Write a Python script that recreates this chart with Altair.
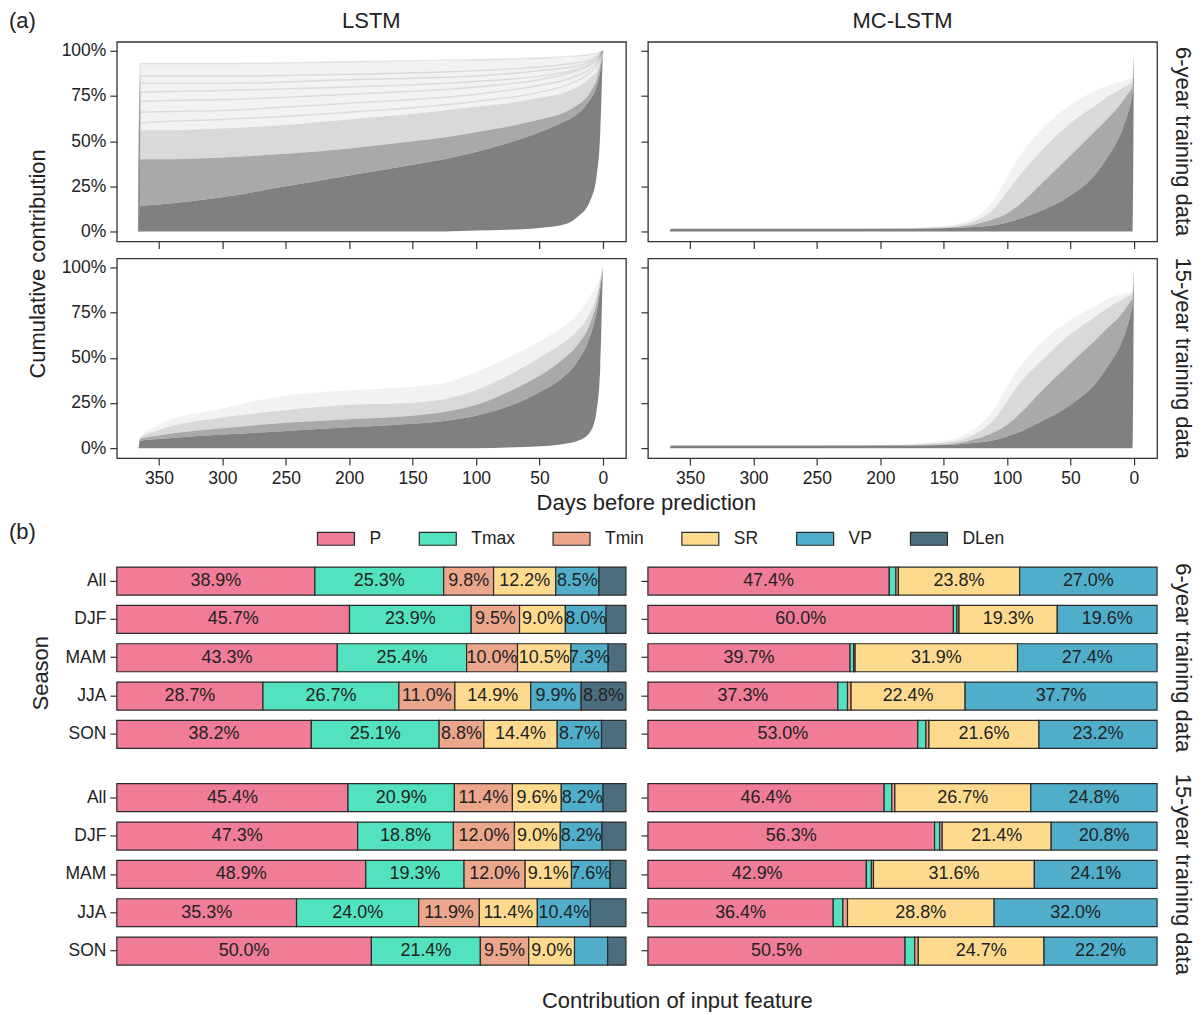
import altair as alt
import pandas as pd

FONT = "Liberation Sans"
GRAY = "#808080"
INK = "#222222"

# ---------------- (a) cumulative contribution: envelopes ----------------
days_lstm = [366, 365, 350, 300, 250, 200, 150, 125, 100, 75, 50, 30, 20, 10, 5, 2, 0]
lstm6_lo   = [0, 0, 0, 0, 0, 0, 0, 0, 0.5, 1, 2, 4, 8, 17, 30, 55, 100]
lstm6_core = [0, 14, 15, 19, 25, 31, 37, 40, 44, 49, 55, 61, 65, 73, 80, 89, 100]
lstm6_b1   = [0, 40, 40, 41, 43, 46, 50, 52, 55, 58, 62, 66, 70, 77, 84, 92, 100]
lstm6_b2   = [0, 56, 56, 57, 59, 62, 65, 67, 69, 71, 74, 77, 80, 85, 89, 95, 100]
lstm6_top  = [0, 93, 93, 93, 93, 94, 94, 94, 95, 95, 96, 96, 97, 98, 98.5, 99.5, 100]

lstm15_lo   = [0, 0, 0, 0, 0, 0, 0, 0, 0, 0.3, 1, 2.5, 4, 9, 20, 45, 100]
lstm15_core = [0, 4, 5, 7.5, 9.5, 11.5, 13.5, 15, 18, 23, 31, 40, 48, 62, 75, 88, 100]
lstm15_b1   = [0, 5, 7, 11, 14, 16, 18, 20, 24, 31, 40, 50, 57, 69, 80, 91, 100]
lstm15_b2   = [0, 5.5, 10, 17, 21, 24, 25, 27, 32, 40, 50, 59, 65, 75, 84, 93, 100]
lstm15_top  = [0, 6, 13, 22, 29, 32, 34, 36, 42, 50, 59, 68, 74, 84, 90, 95, 100]

days_mc = [366, 365, 300, 200, 150, 125, 110, 100, 90, 75, 50, 30, 20, 10, 5, 2, 1, 0]
mc6_lo   = [0, 0, 0, 0, 0, 0, 0, 0, 0, 0, 0, 0, 0, 0, 0, 0, 0, 100]
mc6_core = [0, 1.5, 1.5, 1.5, 1.8, 2.5, 3.5, 5, 7, 11, 20, 32, 42, 55, 65, 73, 78, 100]
mc6_b1   = [0, 1.5, 1.5, 1.5, 2, 4, 7, 10, 15, 25, 42, 56, 63, 71, 76, 79, 81, 100]
mc6_b2   = [0, 1.5, 1.5, 1.6, 2.5, 6, 13, 22, 31, 43, 60, 70, 75, 79, 81, 82, 83, 100]
mc6_top  = [0, 1.5, 1.5, 1.8, 3, 8, 18, 30, 42, 55, 70, 78, 81, 83, 84, 84.5, 85, 100]

mc15_lo   = [0, 0, 0, 0, 0, 0, 0, 0, 0, 0, 0, 0, 0, 0, 0, 0, 0, 100]
mc15_core = [0, 1.5, 1.5, 1.5, 1.8, 3, 4.5, 6.5, 9, 14, 24, 36, 46, 58, 68, 76, 80, 100]
mc15_b1   = [0, 1.5, 1.5, 1.5, 2, 5, 9, 13, 19, 30, 47, 60, 67, 74, 79, 82, 83, 100]
mc15_b2   = [0, 1.5, 1.5, 1.6, 3, 8, 16, 26, 36, 47, 63, 73, 78, 82, 84, 85, 86, 100]
mc15_top  = [0, 1.5, 1.5, 1.8, 4, 11, 22, 34, 45, 57, 71, 79, 83, 85, 86, 86.5, 87, 100]

# a few individual faint curves visible in the LSTM 6-year panel
fringe_days = [366, 365, 300, 200, 100, 50, 25, 10, 3, 0]
fringe_1 = [0, 93, 93, 94, 95, 96, 97, 98, 99, 100]
fringe_2 = [0, 86, 86, 87, 89, 91, 93, 95, 98, 100]
fringe_3 = [0, 82, 82, 84, 86, 89, 91, 94, 97, 100]
fringe_4 = [0, 77, 78, 80, 83, 86, 89, 93, 97, 100]
fringe_5 = [0, 72, 73, 76, 80, 84, 88, 92, 96, 100]
fringe_6 = [0, 66, 67, 71, 76, 81, 85, 90, 95, 100]
fringe_7 = [0, 60, 62, 66, 72, 77, 82, 88, 94, 100]

X_TICKS = [350, 300, 250, 200, 150, 100, 50, 0]
Y_TICKS = [0, 25, 50, 75, 100]

# ---------------- (b) contribution of input features ----------------
SEASONS = ["All", "DJF", "MAM", "JJA", "SON"]
FEATURES = ["P", "Tmax", "Tmin", "SR", "VP", "DLen"]
COLORS = ["#F07C97", "#52E2BF", "#EBA68B", "#FDDA8E", "#50AECB", "#4C6D7D"]

lstm6 = {
    "P":    [38.9, 45.7, 43.3, 28.7, 38.2],
    "Tmax": [25.3, 23.9, 25.4, 26.7, 25.1],
    "Tmin": [9.8, 9.5, 10.0, 11.0, 8.8],
    "SR":   [12.2, 9.0, 10.5, 14.9, 14.4],
    "VP":   [8.5, 8.0, 7.3, 9.9, 8.7],
    "DLen": [5.3, 3.9, 3.5, 8.8, 4.8],
}
mc6 = {
    "P":    [47.4, 60.0, 39.7, 37.3, 53.0],
    "Tmax": [1.3, 0.7, 0.7, 1.9, 1.6],
    "Tmin": [0.5, 0.4, 0.3, 0.7, 0.6],
    "SR":   [23.8, 19.3, 31.9, 22.4, 21.6],
    "VP":   [27.0, 19.6, 27.4, 37.7, 23.2],
    "DLen": [0, 0, 0, 0, 0],
}
lstm15 = {
    "P":    [45.4, 47.3, 48.9, 35.3, 50.0],
    "Tmax": [20.9, 18.8, 19.3, 24.0, 21.4],
    "Tmin": [11.4, 12.0, 12.0, 11.9, 9.5],
    "SR":   [9.6, 9.0, 9.1, 11.4, 9.0],
    "VP":   [8.2, 8.2, 7.6, 10.4, 6.5],
    "DLen": [4.5, 4.7, 3.1, 7.0, 3.6],
}
mc15 = {
    "P":    [46.4, 56.3, 42.9, 36.4, 50.5],
    "Tmax": [1.5, 1.0, 1.0, 1.9, 1.9],
    "Tmin": [0.6, 0.5, 0.4, 0.9, 0.7],
    "SR":   [26.7, 21.4, 31.6, 28.8, 24.7],
    "VP":   [24.8, 20.8, 24.1, 32.0, 22.2],
    "DLen": [0, 0, 0, 0, 0],
}

BAND_NAMES = ["core", "mid", "light", "faint"]
BAND_OPACITY = [1.0, 0.68, 0.3, 0.1]

TITLE_SIZE = 22
TICK_SIZE = 17.5
VALUE_SIZE = 18


def area_frame(days, lo, core, b1, b2, top):
    edges = [lo, core, b1, b2, top]
    rows = []
    for k, name in enumerate(BAND_NAMES):
        for d, a, b in zip(days, edges[k], edges[k + 1]):
            rows.append({"day": d, "band": name, "y0": a, "y1": b, "op": BAND_OPACITY[k]})
    return pd.DataFrame(rows)


def fringe_frame():
    rows = []
    for i, curve in enumerate([fringe_1, fringe_2, fringe_3, fringe_4, fringe_5, fringe_6, fringe_7]):
        for d, v in zip(fringe_days, curve):
            rows.append({"day": d, "v": v, "id": i})
    return pd.DataFrame(rows)


def note(text, x, y, angle=0, align="center", size=TITLE_SIZE):
    return alt.Chart(pd.DataFrame({"t": [text]})).mark_text(
        font=FONT, fontSize=size, color=INK, align=align, baseline="middle", angle=angle
    ).encode(text="t:N", x=alt.value(x), y=alt.value(y))


XS = alt.Scale(domain=[-18.25, 383.25], reverse=True, nice=False, zero=False)
YS = alt.Scale(domain=[-5.5, 105], nice=False, zero=False)
FRAME = alt.ViewBackground(stroke="#333333", strokeWidth=1.3)


def line_panel(adf, xaxis, yaxis, notes, fringe=None):
    area = alt.Chart(adf).mark_area(interpolate="monotone", color=GRAY).encode(
        x=alt.X("day:Q", scale=XS, axis=xaxis),
        y=alt.Y("y0:Q", scale=YS, axis=yaxis),
        y2="y1:Q",
        opacity=alt.Opacity("op:Q", scale=None, legend=None),
        detail="band:N",
    )
    layers = [area]
    if fringe is not None:
        layers.append(
            alt.Chart(fringe).mark_line(interpolate="monotone", color=GRAY, opacity=0.2, strokeWidth=1.5).encode(
                x=alt.X("day:Q", scale=XS), y=alt.Y("v:Q", scale=YS), detail="id:N"
            )
        )
    layers += notes
    return alt.layer(*layers).properties(width=510, height=200, view=FRAME)


def xa(labels, title=None):
    kw = dict(values=X_TICKS, domain=False, labels=labels, grid=False)
    if title:
        kw.update(title=title, titleX=530, titleY=45, titleBaseline="middle", titleAlign="center")
    else:
        kw.update(title=None)
    return alt.Axis(**kw)


def ya(labels, title=None):
    kw = dict(values=Y_TICKS, domain=False, labels=labels, grid=False, labelExpr="datum.value + '%'")
    if title:
        kw.update(title=title, titleX=-79, titleY=222, titleBaseline="middle", titleAlign="center", titleAngle=270)
    else:
        kw.update(title=None)
    return alt.Axis(**kw)


A11 = line_panel(
    area_frame(days_lstm, lstm6_lo, lstm6_core, lstm6_b1, lstm6_b2, lstm6_top),
    xa(False), ya(True, "Cumulative contribution"),
    [note("(a)", -108, -20.5, align="left"), note("LSTM", 255, -20.5)],
    fringe=fringe_frame(),
)
A12 = line_panel(
    area_frame(days_mc, mc6_lo, mc6_core, mc6_b1, mc6_b2, mc6_top),
    xa(False), ya(False),
    [note("MC-LSTM", 255, -20.5), note("6-year training data", 536, 100, angle=90)],
)
A21 = line_panel(
    area_frame(days_lstm, lstm15_lo, lstm15_core, lstm15_b1, lstm15_b2, lstm15_top),
    xa(True, "Days before prediction"), ya(True),
    [],
)
A22 = line_panel(
    area_frame(days_mc, mc15_lo, mc15_core, mc15_b1, mc15_b2, mc15_top),
    xa(True), ya(False),
    [note("15-year training data", 536, 100, angle=90)],
)

LEGEND = alt.Legend(
    title=None, orient="none", legendX=200, legendY=478, direction="horizontal",
    symbolType="M-1,-0.35L1,-0.35L1,0.35L-1,0.35Z", symbolSize=1369,
    symbolStrokeColor="#2a2a2a", symbolStrokeWidth=1.2, symbolOpacity=1,
    labelFontSize=TICK_SIZE, labelColor=INK, labelFont=FONT, labelOffset=14, columnPadding=35,
)


def bar_frame(values):
    rows = []
    for j, f in enumerate(FEATURES):
        for s, v in zip(SEASONS, values[f]):
            rows.append({"season": s, "feature": f, "order": j, "value": v})
    return pd.DataFrame(rows)


def bar_panel(values, height, yrange, yaxis, xaxis, notes):
    base = alt.Chart(bar_frame(values)).transform_filter("datum.value > 0").transform_stack(
        stack="value", groupby=["season"], as_=["x0", "x1"], sort=[alt.SortField("order", order="ascending")]
    )
    bars = base.mark_bar(stroke="#2a2a2a", strokeWidth=1.2, opacity=1).encode(
        y=alt.Y("season:N", sort=SEASONS,
                scale=alt.Scale(paddingInner=0.27, paddingOuter=0.135, range=yrange), axis=yaxis),
        x=alt.X("x0:Q", scale=alt.Scale(domain=[0, 100], nice=False, zero=False), axis=xaxis),
        x2="x1:Q",
        color=alt.Color("feature:N", scale=alt.Scale(domain=FEATURES, range=COLORS), legend=LEGEND),
    )
    labels = base.transform_filter("datum.value >= 7.2").transform_calculate(
        mid="(datum.x0 + datum.x1) / 2", lab="format(datum.value, '.1f') + '%'"
    ).mark_text(font=FONT, fontSize=VALUE_SIZE, color=INK).encode(
        x="mid:Q", y=alt.Y("season:N", sort=SEASONS), text="lab:N"
    )
    return alt.layer(bars, labels, *notes).properties(width=510, height=height)


YB_LEFT_T = alt.Axis(title="Season", titleX=-76, titleY=198, titleBaseline="middle", titleAlign="center",
                     titleAngle=270, domain=False, labelPadding=4)
YB_LEFT = alt.Axis(title=None, domain=False, labelPadding=4)
YB_RIGHT = alt.Axis(title=None, domain=False, labels=False)
XB_T = alt.Axis(title="Contribution of input feature", labels=False, ticks=False, domain=False, grid=False,
                titleX=561, titleY=30, titleBaseline="middle", titleAlign="center")

H3, H4 = 279, 200
R3, R4 = [87, 279], [8, 200]

B11 = bar_panel(lstm6, H3, R3, YB_LEFT_T, None, [note("(b)", -108, 57, align="left")])
B12 = bar_panel(mc6, H3, R3, YB_RIGHT, None, [note("6-year training data", 536, 183, angle=90)])
B21 = bar_panel(lstm15, H4, R4, YB_LEFT, XB_T, [])
B22 = bar_panel(mc15, H4, R4, YB_RIGHT, None, [note("15-year training data", 536, 104, angle=90)])

chart = alt.concat(
    A11, A12, A21, A22, B11, B12, B21, B22,
    columns=2, spacing={"row": 17, "column": 22}, bounds="flush",
).properties(padding=0).configure(font=FONT).configure_view(stroke=None).configure_axis(
    grid=False, labelFontSize=TICK_SIZE, labelColor=INK, labelFont=FONT, tickColor="#333333", tickWidth=1.2,
    tickSize=7, labelPadding=4, titleFontSize=TITLE_SIZE, titleFontWeight="normal", titleColor=INK,
    titleFont=FONT,
)

chart.save("out.html", embed_options={"renderer": "svg", "actions": False})
